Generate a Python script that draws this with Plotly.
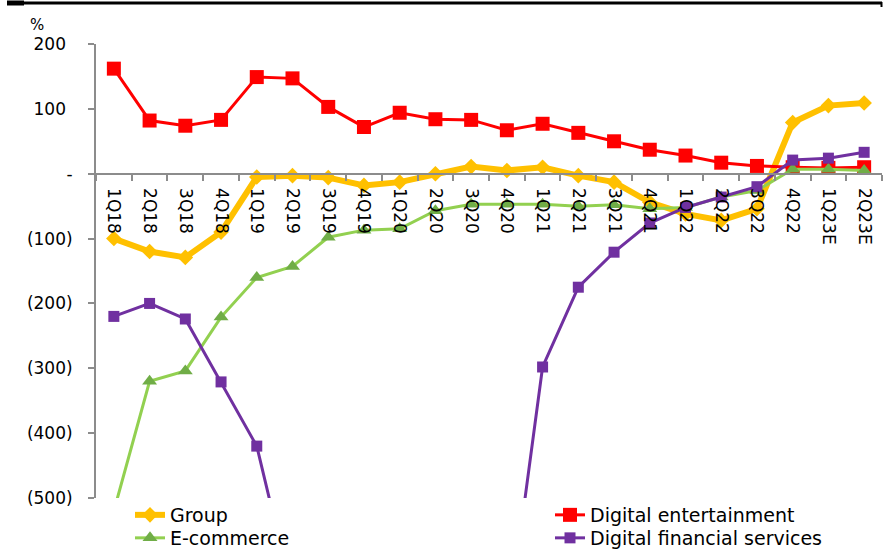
import plotly.graph_objects as go

# Quarters on the category axis
quarters = ["1Q18", "2Q18", "3Q18", "4Q18", "1Q19", "2Q19", "3Q19", "4Q19",
            "1Q20", "2Q20", "3Q20", "4Q20", "1Q21", "2Q21", "3Q21", "4Q21",
            "1Q22", "2Q22", "3Q22", "4Q22", "1Q23E", "2Q23E"]

# Growth, % per segment
group = [-100, -120, -129, -90, -5, -3, -6, -18, -13, 0, 11, 5,
         10, -3, -13, -44, -62, -72, -54, 79, 105, 109]
digital_entertainment = [162, 82, 74, 83, 149, 147, 103, 72, 94, 84, 83, 67,
                         77, 63, 50, 37, 28, 17, 12, 10, 9, 10]
e_commerce = [-520, -320, -304, -221, -160, -143, -98, -87, -85, -57, -47, -47,
              -47, -50, -48, -54, -52, -36, -26, 7, 7, 5]
digital_financial_services = [-220, -200, -224, -321, -420, -650, None, None, None, None, None, -710,
                              -298, -175, -121, -76, -52, -36, -20, 21, 24, 33]

# Value axis ticks (accounting-style negatives)
y_tickvals = [200, 100, 0, -100, -200, -300, -400, -500]
pad = '<span style="color:rgba(0,0,0,0)">)</span>'
y_ticktext = ["200" + pad, "100" + pad, "-", "(100)", "(200)", "(300)", "(400)", "(500)"]

FONT = "DejaVu Sans"
W, H = 883, 549
L, R, T, B = 96, 1, 44, 51
plot_w = W - L - R
plot_h = H - T - B
y_min, y_max = -500, 200
zero_pos = (0 - y_min) / (y_max - y_min)


def px_x(px):
    return (px - L) / plot_w


def px_y(py):
    return (H - B - py) / plot_h


fig = go.Figure()

fig.add_trace(go.Scatter(
    x=quarters, y=group, name="Group", mode="lines+markers",
    line=dict(color="#FFC000", width=6),
    marker=dict(symbol="diamond", size=12, color="#FFC000"),
    legend="legend",
))
fig.add_trace(go.Scatter(
    x=quarters, y=digital_entertainment, name="Digital entertainment", mode="lines+markers",
    line=dict(color="#FF0000", width=3),
    marker=dict(symbol="square", size=14, color="#FF0000"),
    legend="legend2",
))
fig.add_trace(go.Scatter(
    x=quarters, y=e_commerce, name="E-commerce", mode="lines+markers",
    line=dict(color="#92D050", width=3),
    marker=dict(symbol="triangle-up", size=13, color="#70AD47"),
    legend="legend3",
))
fig.add_trace(go.Scatter(
    x=quarters, y=digital_financial_services, name="Digital financial services",
    mode="lines+markers",
    line=dict(color="#7030A0", width=3),
    marker=dict(symbol="square", size=11, color="#7030A0"),
    legend="legend4",
))

axis_grey = "#8C8C8C"
legend_common = dict(
    xanchor="left", yanchor="top", orientation="v",
    font=dict(family=FONT, size=19), bgcolor="rgba(0,0,0,0)",
    tracegroupgap=0, borderwidth=0,
)
row1_top, row2_top = 496, 519
col1_x, col2_x = 130, 550

fig.update_layout(
    width=W, height=H,
    margin=dict(l=L, r=R, t=T, b=B, autoexpand=False),
    paper_bgcolor="white", plot_bgcolor="white",
    font=dict(family=FONT, size=17, color="black"),
    xaxis=dict(
        type="category", range=[-0.5, len(quarters) - 0.5],
        anchor="free", position=zero_pos,
        showline=True, linecolor=axis_grey, linewidth=2,
        ticks="outside", tickson="boundaries", ticklen=6, tickwidth=2, tickcolor=axis_grey,
        tickangle=90, tickfont=dict(family=FONT, size=17),
        showgrid=False, zeroline=False,
        ticklabelstandoff=10,
    ),
    yaxis=dict(
        range=[y_min, y_max],
        tickvals=y_tickvals, ticktext=y_ticktext,
        showline=True, linecolor=axis_grey, linewidth=2,
        ticks="outside", ticklen=6, tickwidth=2, tickcolor=axis_grey,
        tickfont=dict(family=FONT, size=17),
        showgrid=False, zeroline=False,
        ticklabelstandoff=12,
    ),
    legend=dict(x=px_x(col1_x), y=px_y(row1_top), **legend_common),
    legend2=dict(x=px_x(col2_x), y=px_y(row1_top), **legend_common),
    legend3=dict(x=px_x(col1_x), y=px_y(row2_top), **legend_common),
    legend4=dict(x=px_x(col2_x), y=px_y(row2_top), **legend_common),
    showlegend=True,
)

# "%" unit label above the value axis
fig.add_annotation(
    text="%", xref="paper", yref="paper",
    x=px_x(37), y=px_y(25),
    showarrow=False, font=dict(family=FONT, size=15), xanchor="center", yanchor="middle",
)

# Heading rule across the top
fig.add_shape(type="line", xref="paper", yref="paper",
              x0=px_x(7), x1=px_x(882), y0=px_y(3), y1=px_y(3),
              line=dict(color="black", width=3))
fig.add_shape(type="line", xref="paper", yref="paper",
              x0=px_x(7), x1=px_x(24), y0=px_y(3), y1=px_y(3),
              line=dict(color="black", width=5))
fig.add_shape(type="line", xref="paper", yref="paper",
              x0=px_x(881.5), x1=px_x(881.5), y0=px_y(2), y1=px_y(7),
              line=dict(color="black", width=2))

fig.write_html("out.html")
